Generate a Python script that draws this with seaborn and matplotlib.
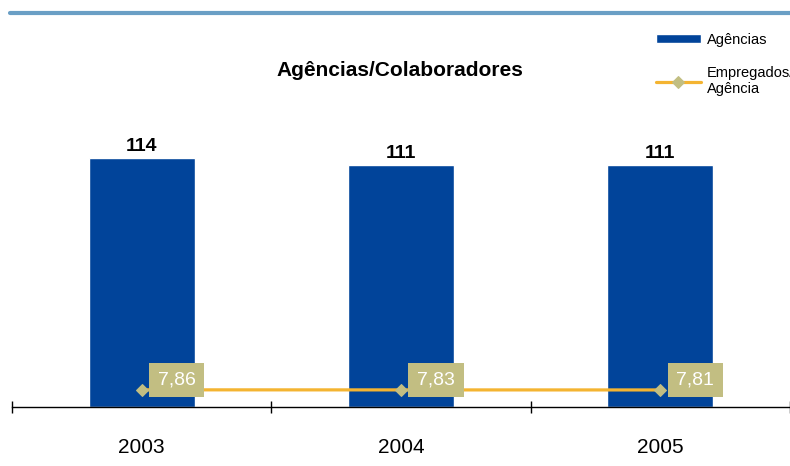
import matplotlib
matplotlib.use("Agg")
import matplotlib.pyplot as plt
import seaborn as sns
from matplotlib.lines import Line2D

sns.set_style("white")
plt.rcParams['font.family'] = ['Liberation Sans', 'DejaVu Sans']
plt.rcParams['text.color'] = 'black'

# data
anos = ['2003', '2004', '2005']
agencias = [114, 111, 111]
empregados_por_agencia = [7.86, 7.83, 7.81]
rotulos_emp = ['7,86', '7,83', '7,81']

azul = '#01449a'
laranja = '#f4b431'
caqui = '#c2be82'

fig = plt.figure(figsize=(7.9, 4.66), dpi=100)
ax = fig.add_axes([12 / 790, 59 / 466, 778 / 790, 327.6 / 466])

sns.barplot(x=anos, y=agencias, color=azul, width=0.41, saturation=1, ax=ax,
            label='Agências')
ax.bar_label(ax.containers[0], labels=[str(v) for v in agencias], padding=2,
             fontsize=14, fontweight='bold', color='black')

pos = list(range(len(anos)))
sns.lineplot(x=pos, y=empregados_por_agencia, color=laranja, linewidth=2.3,
             marker='D', markersize=6.5, markerfacecolor=caqui,
             markeredgecolor=caqui, ax=ax, label='Empregados/\nAgência')

# caixas com o valor de empregados por agência
for i, txt in enumerate(rotulos_emp):
    ax.annotate(txt, xy=(pos[i], empregados_por_agencia[i]),
                xytext=(35, 10), textcoords='offset pixels',
                ha='center', va='center', fontsize=14, color='white',
                bbox=dict(boxstyle='square,pad=0.45', fc=caqui, ec='none'))

ax.set_xlim(-0.5, 2.5)
ax.set_ylim(0, 150)
ax.set_ylabel('')
ax.set_yticks([])
for s in ['left', 'top', 'right']:
    ax.spines[s].set_visible(False)
ax.spines['bottom'].set_color('black')
ax.spines['bottom'].set_linewidth(1)
ax.set_xticks([-0.5, 0.5, 1.5, 2.5], minor=True)
ax.tick_params(axis='x', which='major', length=0, pad=22, labelsize=15,
               labelcolor='black')
ax.tick_params(axis='x', which='minor', direction='inout', length=9,
               width=1, color='black', bottom=True)

handles, labels = ax.get_legend_handles_labels()
ordem = [labels.index('Agências'), labels.index('Empregados/\nAgência')]
leg = ax.legend([handles[k] for k in ordem], [labels[k] for k in ordem],
                loc='upper left',
                bbox_to_anchor=(650 / 790, 1 - 27 / 466),
                bbox_transform=fig.transFigure, frameon=False, fontsize=10.5,
                handlelength=3.1, handleheight=0.6, handletextpad=0.4,
                labelspacing=1.3, borderaxespad=0)

fig.add_artist(Line2D([10 / 790, 1], [1 - 13 / 466, 1 - 13 / 466],
                      color='#6a9fc5', linewidth=3, transform=fig.transFigure))
fig.text(400 / 790, 1 - 70 / 466, 'Agências/Colaboradores', ha='center',
         va='center', fontsize=15, fontweight='bold')

fig.savefig('out.png', dpi=100)
